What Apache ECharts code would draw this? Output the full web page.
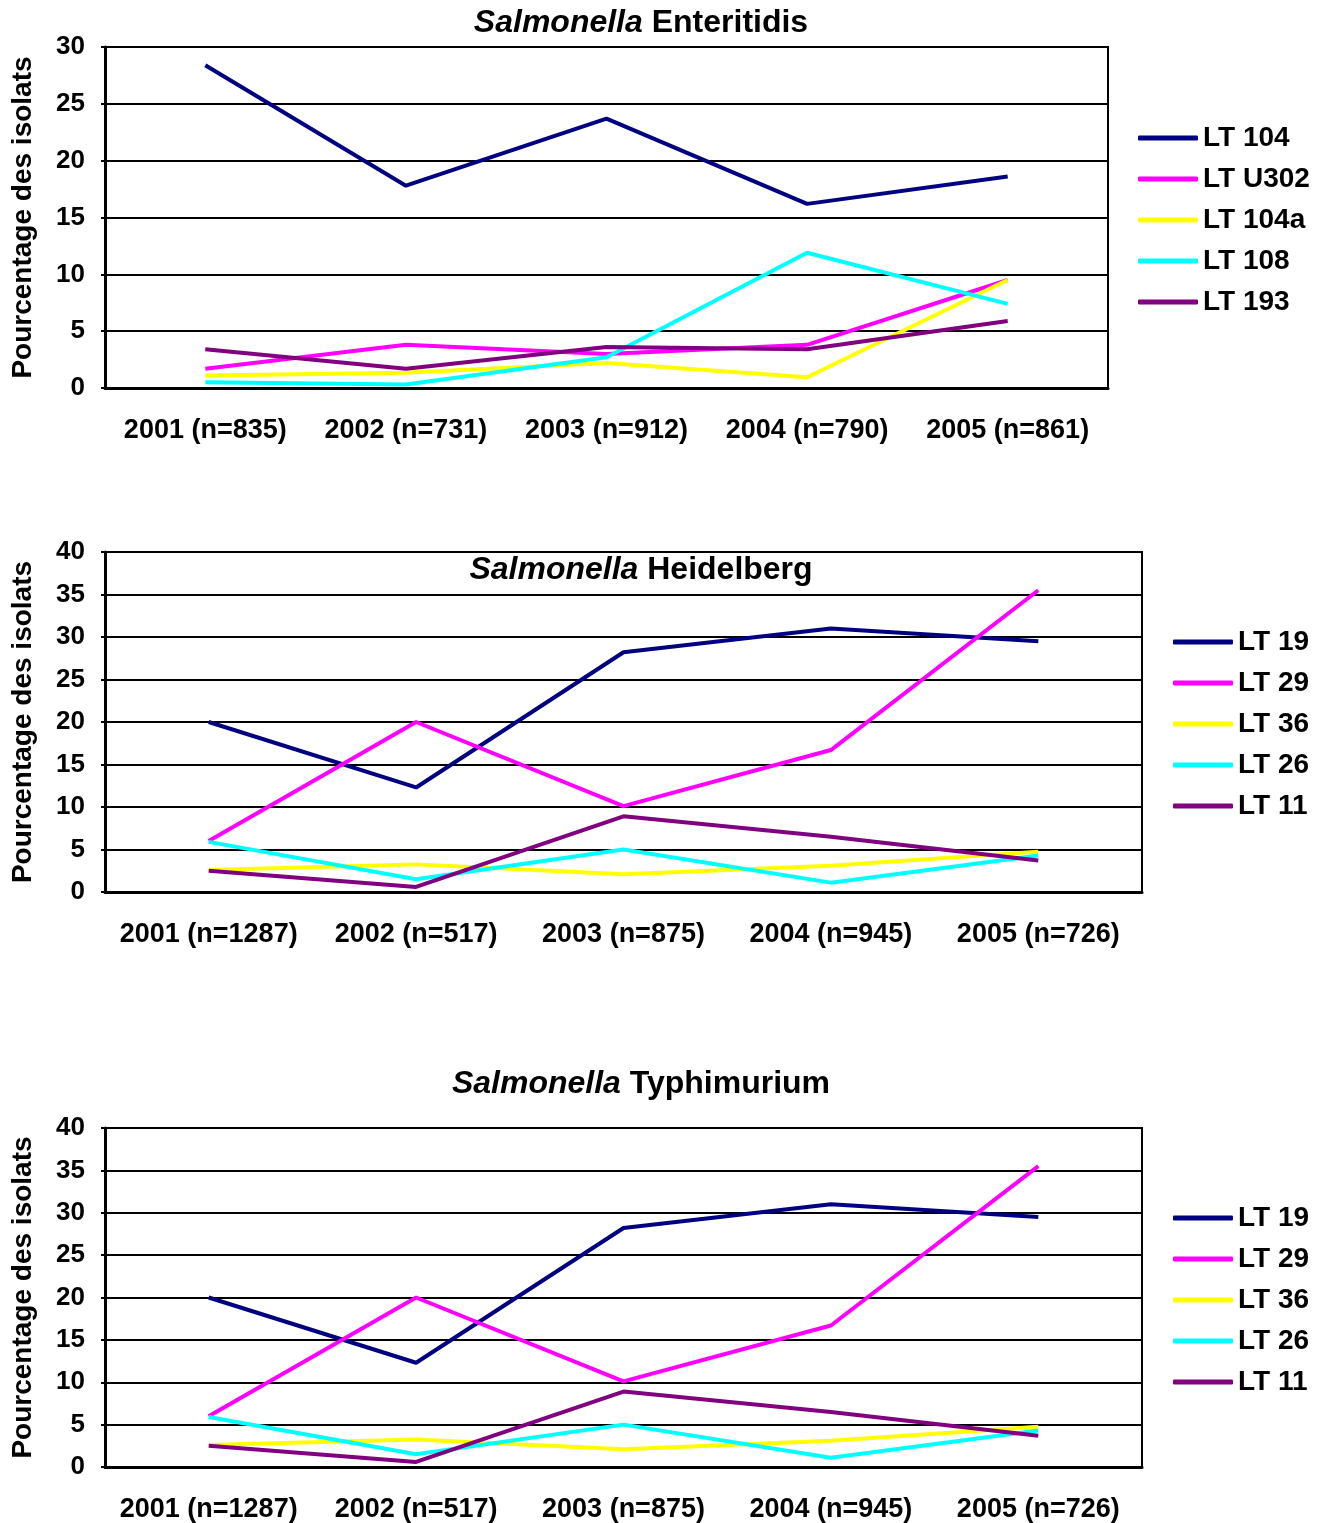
<!DOCTYPE html>
<html>
<head>
<meta charset="utf-8">
<script src="https://cdn.jsdelivr.net/npm/echarts@6/dist/echarts.min.js"></script>
<style>
  html, body { margin: 0; padding: 0; background: #ffffff; }
  #chart { width: 1327px; height: 1523px; }
</style>
</head>
<body>
<div id="chart"></div>
<script>
// ---- Salmonella Enteritidis: lysotypes (% of isolates) ----
const enteritidisYears = ['2001 (n=835)', '2002 (n=731)', '2003 (n=912)', '2004 (n=790)', '2005 (n=861)'];
const enteritidisLT104  = [28.4, 17.8, 23.7, 16.2, 18.6];
const enteritidisLTU302 = [1.7, 3.8, 3.0, 3.8, 9.5];
const enteritidisLT104a = [1.1, 1.35, 2.2, 0.95, 9.5];
const enteritidisLT108  = [0.5, 0.3, 2.7, 11.9, 7.4];
const enteritidisLT193  = [3.4, 1.7, 3.6, 3.4, 5.9];

// ---- Salmonella Heidelberg ----
const heidelbergYears = ['2001 (n=1287)', '2002 (n=517)', '2003 (n=875)', '2004 (n=945)', '2005 (n=726)'];
const heidelbergLT19 = [20.0, 12.3, 28.2, 31.0, 29.5];
const heidelbergLT29 = [6.0, 20.0, 10.1, 16.7, 35.5];
const heidelbergLT36 = [2.6, 3.25, 2.1, 3.1, 4.75];
const heidelbergLT26 = [5.9, 1.5, 5.0, 1.1, 4.3];
const heidelbergLT11 = [2.5, 0.6, 8.9, 6.5, 3.7];

// ---- Salmonella Typhimurium ----
const typhimuriumYears = ['2001 (n=1287)', '2002 (n=517)', '2003 (n=875)', '2004 (n=945)', '2005 (n=726)'];
const typhimuriumLT19 = [20.0, 12.3, 28.2, 31.0, 29.5];
const typhimuriumLT29 = [6.0, 20.0, 10.1, 16.7, 35.5];
const typhimuriumLT36 = [2.6, 3.25, 2.1, 3.1, 4.75];
const typhimuriumLT26 = [5.9, 1.5, 5.0, 1.1, 4.3];
const typhimuriumLT11 = [2.5, 0.6, 8.9, 6.5, 3.7];

const yAxisTitle = 'Pourcentage des isolats';

const FONT = "'Liberation Sans', Arial, Helvetica, sans-serif";
const COLORS = ['#000080', '#FF00FF', '#FFFF00', '#00FFFF', '#800080'];

const panels = [
  {
    title: '{i|Salmonella} Enteritidis', titleY: 23,
    grid: { left: 105, right: 219, top: 47, height: 341 },
    years: enteritidisYears, max: 30,
    names: ['LT 104', 'LT U302', 'LT 104a', 'LT 108', 'LT 193'],
    values: [enteritidisLT104, enteritidisLTU302, enteritidisLT104a, enteritidisLT108, enteritidisLT193],
    legend: { left: 1138, top: 123 }
  },
  {
    title: '{i|Salmonella} Heidelberg', titleY: 570,
    grid: { left: 105, right: 185, top: 552, height: 340 },
    years: heidelbergYears, max: 40,
    names: ['LT 19', 'LT 29', 'LT 36', 'LT 26', 'LT 11'],
    values: [heidelbergLT19, heidelbergLT29, heidelbergLT36, heidelbergLT26, heidelbergLT11],
    legend: { left: 1173, top: 627 }
  },
  {
    title: '{i|Salmonella} Typhimurium', titleY: 1084,
    grid: { left: 105, right: 185, top: 1128, height: 340 },
    years: typhimuriumYears, max: 40,
    names: ['LT 19', 'LT 29', 'LT 36', 'LT 26', 'LT 11'],
    values: [typhimuriumLT19, typhimuriumLT29, typhimuriumLT36, typhimuriumLT26, typhimuriumLT11],
    legend: { left: 1173, top: 1203 }
  }
];

const grids = [], xAxes = [], yAxes = [], series = [], legends = [], graphics = [];

panels.forEach((p, k) => {
  grids.push(Object.assign({
    show: true, borderColor: '#000', borderWidth: 2, backgroundColor: '#fff', containLabel: false
  }, p.grid));

  xAxes.push({
    type: 'category', gridIndex: k, data: p.years, boundaryGap: true,
    axisLine: { show: true, lineStyle: { color: '#000', width: 3 } },
    axisTick: { show: false },
    axisLabel: { color: '#000', fontFamily: FONT, fontWeight: 'bold', fontSize: 27, margin: 29, interval: 0 },
    splitLine: { show: false }
  });

  yAxes.push({
    type: 'value', gridIndex: k, min: 0, max: p.max, interval: 5,
    name: yAxisTitle, nameLocation: 'middle', nameGap: 68,
    nameTextStyle: { color: '#000', fontFamily: FONT, fontWeight: 'bold', fontSize: 28 },
    axisLine: { show: true, lineStyle: { color: '#000', width: 3 } },
    axisTick: { show: true, length: 4, lineStyle: { color: '#000', width: 2 } },
    axisLabel: { color: '#000', fontFamily: FONT, fontWeight: 'bold', fontSize: 26, margin: 20 },
    splitLine: { show: true, lineStyle: { color: '#000', width: 2 } }
  });

  p.names.forEach((name, j) => {
    series.push({
      type: 'line', name: name, xAxisIndex: k, yAxisIndex: k,
      data: p.values[j],
      symbol: 'none', showSymbol: false,
      color: COLORS[j],
      lineStyle: { color: COLORS[j], width: 4 },
      emphasis: { disabled: true },
      animation: false
    });
  });

  legends.push({
    orient: 'vertical', left: p.legend.left, top: p.legend.top, padding: 0,
    data: p.names, icon: 'roundRect', itemWidth: 60, itemHeight: 5, itemGap: 11,
    selectedMode: false,
    textStyle: { color: '#000', fontFamily: FONT, fontWeight: 'bold', fontSize: 28, lineHeight: 30 }
  });

  graphics.push({
    type: 'text', x: 641, y: p.titleY, silent: true,
    style: {
      text: p.title, align: 'center', verticalAlign: 'middle',
      fill: '#000', fontFamily: FONT, fontWeight: 'bold', fontSize: 32,
      rich: { i: { fontStyle: 'italic', fontWeight: 'bold', fontFamily: FONT, fontSize: 32, fill: '#000' } }
    },
    z: 100
  });
});

const chart = echarts.init(document.getElementById('chart'), null, { renderer: 'canvas' });
chart.setOption({
  backgroundColor: '#fff',
  animation: false,
  grid: grids,
  xAxis: xAxes,
  yAxis: yAxes,
  legend: legends,
  series: series,
  graphic: graphics
});
</script>
</body>
</html>
